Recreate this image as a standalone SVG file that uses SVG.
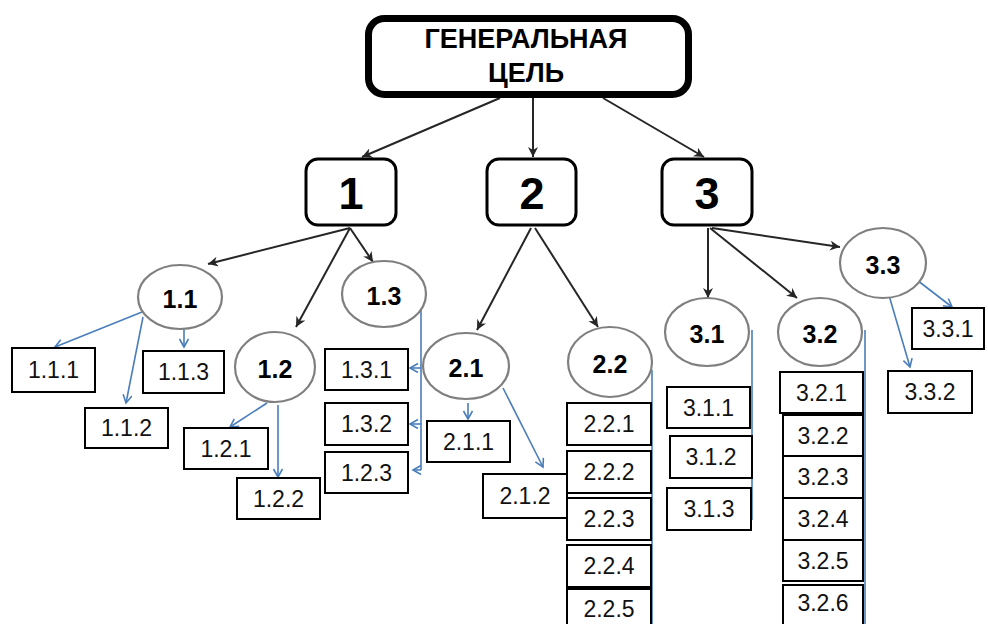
<svg xmlns="http://www.w3.org/2000/svg" width="988" height="624" viewBox="0 0 988 624">
<defs>
<style>
.bg{fill:#fff}
.title{fill:#fff;stroke:#000;stroke-width:7}
.lvl1{fill:#fff;stroke:#000;stroke-width:3}
.ell{fill:#fff;stroke:#7f7f7f;stroke-width:2.2}
.box{fill:#fff;stroke:#000;stroke-width:2}
.tt{font-family:"Liberation Sans",Arial,sans-serif;font-weight:bold;font-size:27px;fill:#000;text-anchor:middle}
.t1{font-family:"Liberation Sans",Arial,sans-serif;font-weight:bold;font-size:45px;fill:#000;text-anchor:middle}
.te{font-family:"Liberation Sans",Arial,sans-serif;font-weight:bold;font-size:25px;fill:#000;text-anchor:middle}
.tb{font-family:"Liberation Sans",Arial,sans-serif;font-size:23px;fill:#111;text-anchor:middle}
.blk{fill:none;stroke:#262626;stroke-width:2;marker-end:url(#ab)}
.blu{fill:none;stroke:#4a7ebb;stroke-width:1.6;marker-end:url(#au)}
.bln{fill:none;stroke:#4a7ebb;stroke-width:1.6}
</style>
<marker id="ab" markerUnits="userSpaceOnUse" markerWidth="12" markerHeight="12" refX="10" refY="5" orient="auto">
<path d="M0,0 L10,5 L0,10 L3,5 z" fill="#262626"/>
</marker>
<marker id="au" markerUnits="userSpaceOnUse" markerWidth="12" markerHeight="12" refX="9" refY="5" orient="auto">
<path d="M1,0.5 L9,5 L1,9.5" fill="none" stroke="#4a7ebb" stroke-width="1.6"/>
</marker>
</defs>
<rect class="bg" x="0" y="0" width="988" height="624"/>

<g id="connectors">
<line class="blk" x1="500" y1="98" x2="362" y2="157"/>
<line class="blk" x1="533" y1="98" x2="533" y2="157"/>
<line class="blk" x1="603" y1="98" x2="704" y2="157"/>
<line class="blk" x1="350" y1="228" x2="208" y2="264"/>
<line class="blk" x1="350" y1="228" x2="296" y2="327"/>
<line class="blk" x1="350" y1="228" x2="373" y2="262"/>
<line class="blk" x1="531" y1="228" x2="477" y2="330"/>
<line class="blk" x1="535" y1="228" x2="598" y2="327"/>
<line class="blk" x1="708" y1="228" x2="708" y2="298"/>
<line class="blk" x1="710" y1="228" x2="797" y2="298"/>
<line class="blk" x1="712" y1="228" x2="840" y2="247"/>
<line class="blu" x1="142" y1="312" x2="55" y2="347"/>
<line class="blu" x1="143" y1="317" x2="126" y2="403"/>
<line class="blu" x1="184" y1="328" x2="184" y2="347"/>
<line class="blu" x1="267" y1="403" x2="230" y2="427"/>
<line class="blu" x1="278" y1="405" x2="278" y2="477"/>
<path class="bln" d="M421,310 L421,470"/>
<line class="blu" x1="421" y1="368" x2="410" y2="368"/>
<line class="blu" x1="421" y1="424" x2="410" y2="424"/>
<line class="blu" x1="421" y1="470" x2="413" y2="470"/>
<line class="blu" x1="468" y1="403" x2="468" y2="419"/>
<line class="blu" x1="503" y1="388" x2="543" y2="467"/>
<path class="bln" d="M652,370 L652,624"/>
<path class="bln" d="M752,330 L752,520"/>
<path class="bln" d="M865,330 L865,624"/>
<line class="blu" x1="913" y1="277" x2="952" y2="307"/>
<line class="blu" x1="888" y1="292" x2="910" y2="367"/>
</g>

<g id="goal">
<rect class="title" x="368.5" y="18.5" width="320" height="76" rx="16"/>
<text class="tt" x="526" y="48">ГЕНЕРАЛЬНАЯ</text>
<text class="tt" x="526" y="82">ЦЕЛЬ</text>
</g>

<g id="n1"><rect class="lvl1" x="306" y="159" width="90" height="66" rx="12"/><text class="t1" x="351" y="209">1</text></g>
<g id="n2"><rect class="lvl1" x="487" y="159" width="89" height="66" rx="12"/><text class="t1" x="532" y="209">2</text></g>
<g id="n3"><rect class="lvl1" x="662" y="159" width="90" height="66" rx="12"/><text class="t1" x="707" y="209">3</text></g>

<g id="n1_1"><ellipse class="ell" cx="180" cy="297" rx="42" ry="32"/><text class="te" x="180" y="308">1.1</text></g>
<g id="n1_2"><ellipse class="ell" cx="275" cy="367" rx="40" ry="35"/><text class="te" x="275" y="378">1.2</text></g>
<g id="n1_3"><ellipse class="ell" cx="384" cy="294" rx="42" ry="33"/><text class="te" x="384" y="305">1.3</text></g>
<g id="n2_1"><ellipse class="ell" cx="466" cy="366" rx="43" ry="33"/><text class="te" x="466" y="377">2.1</text></g>
<g id="n2_2"><ellipse class="ell" cx="610" cy="362" rx="42" ry="35"/><text class="te" x="610" y="373">2.2</text></g>
<g id="n3_1"><ellipse class="ell" cx="707" cy="332" rx="42" ry="34"/><text class="te" x="707" y="343">3.1</text></g>
<g id="n3_2"><ellipse class="ell" cx="820" cy="332" rx="42" ry="34"/><text class="te" x="820" y="343">3.2</text></g>
<g id="n3_3"><ellipse class="ell" cx="883" cy="263" rx="43" ry="35"/><text class="te" x="883" y="274">3.3</text></g>

<g id="n1_1_1"><rect class="box" x="12" y="348" width="83" height="44"/><text class="tb" x="53.5" y="378">1.1.1</text></g>
<g id="n1_1_3"><rect class="box" x="143" y="351" width="81" height="42"/><text class="tb" x="183.5" y="380">1.1.3</text></g>
<g id="n1_1_2"><rect class="box" x="85" y="408" width="83" height="40"/><text class="tb" x="126.5" y="436">1.1.2</text></g>
<g id="n1_2_1"><rect class="box" x="184" y="428" width="84" height="41"/><text class="tb" x="226" y="457">1.2.1</text></g>
<g id="n1_2_2"><rect class="box" x="237" y="478" width="83" height="41"/><text class="tb" x="278.5" y="507">1.2.2</text></g>
<g id="n1_3_1"><rect class="box" x="325" y="349" width="83" height="41"/><text class="tb" x="366.5" y="378">1.3.1</text></g>
<g id="n1_3_2"><rect class="box" x="325" y="403" width="83" height="42"/><text class="tb" x="366.5" y="432">1.3.2</text></g>
<g id="n1_2_3"><rect class="box" x="325" y="452" width="83" height="41"/><text class="tb" x="366.5" y="481">1.2.3</text></g>
<g id="n2_1_1"><rect class="box" x="427" y="421" width="83" height="41"/><text class="tb" x="468.5" y="450">2.1.1</text></g>
<g id="n2_1_2"><rect class="box" x="483" y="474" width="84" height="44"/><text class="tb" x="525" y="504">2.1.2</text></g>
<g id="n2_2_1"><rect class="box" x="567" y="403" width="84" height="42"/><text class="tb" x="609" y="432">2.2.1</text></g>
<g id="n2_2_2"><rect class="box" x="567" y="451" width="84" height="42"/><text class="tb" x="609" y="480">2.2.2</text></g>
<g id="n2_2_3"><rect class="box" x="567" y="498" width="84" height="42"/><text class="tb" x="609" y="527">2.2.3</text></g>
<g id="n2_2_4"><rect class="box" x="567" y="545" width="84" height="42"/><text class="tb" x="609" y="574">2.2.4</text></g>
<g id="n2_2_5"><rect class="box" x="567" y="589" width="84" height="44"/><text class="tb" x="609" y="617">2.2.5</text></g>
<g id="n3_1_1"><rect class="box" x="667" y="387" width="83" height="41"/><text class="tb" x="708.5" y="416">3.1.1</text></g>
<g id="n3_1_2"><rect class="box" x="670" y="436" width="82" height="42"/><text class="tb" x="711" y="465">3.1.2</text></g>
<g id="n3_1_3"><rect class="box" x="667" y="488" width="84" height="42"/><text class="tb" x="709" y="517">3.1.3</text></g>
<g id="n3_2_1"><rect class="box" x="780" y="372" width="83" height="41"/><text class="tb" x="821.5" y="401">3.2.1</text></g>
<g id="n3_2_2"><rect class="box" x="783" y="415" width="80" height="41"/><text class="tb" x="823" y="444">3.2.2</text></g>
<g id="n3_2_3"><rect class="box" x="783" y="456" width="80" height="42"/><text class="tb" x="823" y="485">3.2.3</text></g>
<g id="n3_2_4"><rect class="box" x="783" y="498" width="80" height="42"/><text class="tb" x="823" y="527">3.2.4</text></g>
<g id="n3_2_5"><rect class="box" x="783" y="540" width="80" height="41"/><text class="tb" x="823" y="569">3.2.5</text></g>
<g id="n3_2_6"><rect class="box" x="783" y="585" width="80" height="45"/><text class="tb" x="823" y="611">3.2.6</text></g>
<g id="n3_3_1"><rect class="box" x="912" y="308" width="72" height="41"/><text class="tb" x="948" y="337">3.3.1</text></g>
<g id="n3_3_2"><rect class="box" x="888" y="371" width="84" height="42"/><text class="tb" x="930" y="400">3.3.2</text></g>
</svg>
